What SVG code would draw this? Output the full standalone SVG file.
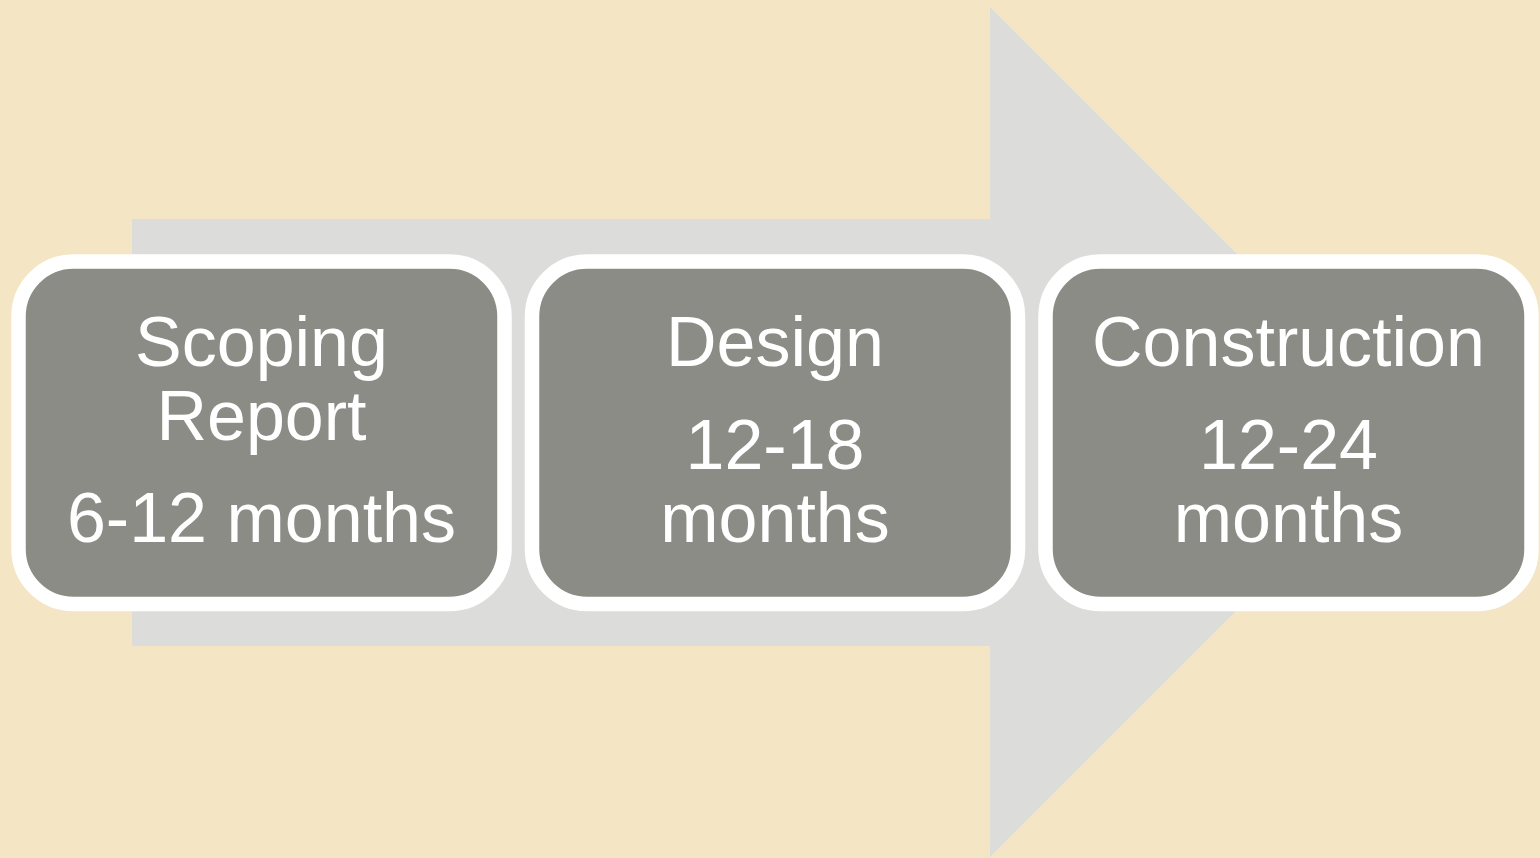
<svg xmlns="http://www.w3.org/2000/svg" width="1540" height="858" viewBox="0 0 1540 858">
<style>
.box{fill:#8C8C86;stroke:#FFFFFF;stroke-width:14.5}
.t{font-family:"Liberation Sans",Arial,sans-serif;font-size:70px;fill:#FFFFFF;text-anchor:middle}
</style>
<rect x="0" y="0" width="1540" height="858" fill="#F4E6C4"/>
<g id="arrow">
<polygon points="132,219 990,219 990,7 1415,432 990,857 990,646 132,646" fill="#DCDCDA"/>
</g>
<g id="connectors"></g>
<g id="node-scoping">
<rect class="box" x="18.5" y="261.5" width="486" height="342.5" rx="55"/>
<text class="t" x="261.5" y="366">Scoping</text>
<text class="t" x="261.5" y="440">Report</text>
<text class="t" x="261.5" y="542">6-12 months</text>
</g>
<g id="node-design">
<rect class="box" x="532" y="261.5" width="486" height="342.5" rx="55"/>
<text class="t" x="775" y="366">Design</text>
<text class="t" x="775" y="469">12-18</text>
<text class="t" x="775" y="542">months</text>
</g>
<g id="node-construction">
<rect class="box" x="1045.5" y="261.5" width="486" height="342.5" rx="55"/>
<text class="t" x="1288.5" y="366">Construction</text>
<text class="t" x="1288.5" y="469">12-24</text>
<text class="t" x="1288.5" y="542">months</text>
</g>
</svg>
